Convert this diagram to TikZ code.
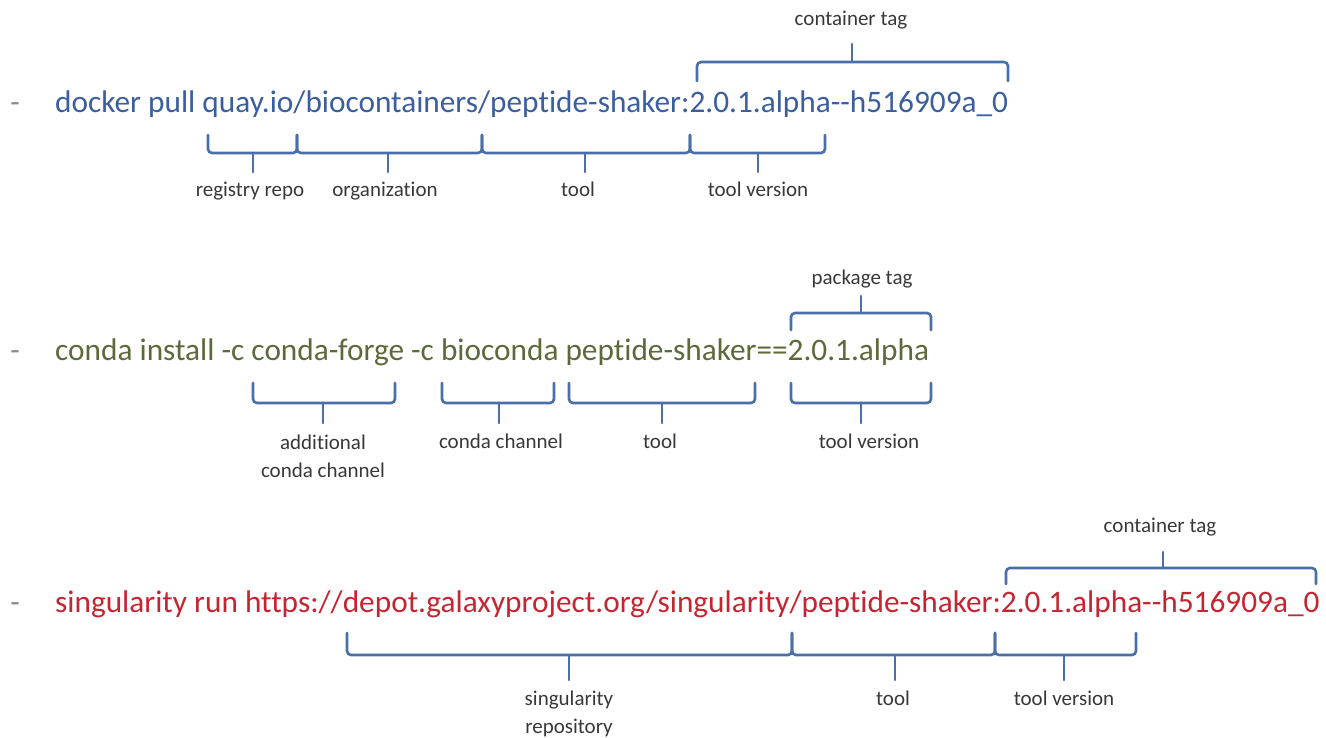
\documentclass[tikz,border=0pt]{standalone}
\usepackage{fontspec}
\setmainfont{Carlito}[Ligatures={NoCommon}]
\definecolor{cmdblue}{HTML}{3A5E9E}
\definecolor{cmdgreen}{HTML}{5C6A3A}
\definecolor{cmdred}{HTML}{C42530}
\definecolor{bracecol}{HTML}{4A6EA8}
\definecolor{labcol}{HTML}{383838}
\definecolor{dashcol}{HTML}{8A8A8A}
\tikzset{
  cmd/.style={anchor=base west, inner sep=0pt, font=\fontsize{31.3}{37}\selectfont},
  lab/.style={anchor=base, inner sep=0pt, text=labcol, align=center, font=\fontsize{21}{28}\selectfont},
  dashmark/.style={anchor=base, inner sep=0pt, text=dashcol, font=\fontsize{31}{37}\selectfont},
  bracestyle/.style={draw=bracecol, line width=2.6pt, rounded corners=4pt, line cap=round}
}
% lower brace: x1 x2 ytop ymid ybot xc
\newcommand{\lowbrace}[6]{%
  \draw[bracestyle] (#1,#3) -- (#1,#4) -- (#2,#4) -- (#2,#3);
  \draw[bracestyle] (#6,#4) -- (#6,#5);}
\begin{document}
\begin{tikzpicture}[x=1pt,y=-1pt]
\useasboundingbox (0,0) rectangle (1326,738);
% ---------- line 1 ----------
\node[dashmark] (d1) at (15,113) {-};
\node[cmd, text=cmdblue] (c1) at (55,113) {docker pull quay.io/biocontainers/peptide-shaker:2.0.1.alpha-{}-h516909a\_0};
\lowbrace{208}{297}{135}{153}{172}{253}
\lowbrace{297}{482}{135}{153}{172}{388}
\lowbrace{482}{690}{135}{153}{172}{585}
\lowbrace{690}{825}{135}{153}{172}{758}
\draw[bracestyle] (697,81) -- (697,62) -- (1008,62) -- (1008,81);
\draw[bracestyle] (852,62) -- (852,44);
\node[lab] (l1a) at (250,197) {registry repo};
\node[lab] (l1b) at (385,197) {organization};
\node[lab] (l1c) at (578,197) {tool};
\node[lab] (l1d) at (758,197) {tool version};
\node[lab] (l1e) at (851,26) {container tag};
% ---------- line 2 ----------
\node[dashmark] (d2) at (15,360) {-};
\node[cmd, text=cmdgreen] (c2) at (55,360) {conda install -c conda-forge -c bioconda peptide-shaker==2.0.1.alpha};
\lowbrace{253}{395}{383}{403}{423}{323}
\lowbrace{442}{554}{383}{403}{423}{499}
\lowbrace{569}{755}{383}{403}{423}{662}
\lowbrace{791}{931}{383}{403}{423}{861}
\draw[bracestyle] (791,330) -- (791,313) -- (931,313) -- (931,330);
\draw[bracestyle] (861,313) -- (861,296);
\node[lab] (l2a) at (323,477) {additional\\conda channel};
\node[lab] (l2b) at (501,448) {conda channel};
\node[lab] (l2c) at (660,448) {tool};
\node[lab] (l2d) at (869,448) {tool version};
\node[lab] (l2e) at (862,284) {package tag};
% ---------- line 3 ----------
\node[dashmark] (d3) at (15,612) {-};
\node[cmd, text=cmdred] (c3) at (55,612) {singularity run https://depot.galaxyproject.org/singularity/peptide-shaker:2.0.1.alpha-{}-h516909a\_0};
\lowbrace{347}{792}{633}{655}{680}{569}
\lowbrace{792}{995}{633}{655}{680}{895}
\lowbrace{995}{1136}{633}{655}{680}{1064}
\draw[bracestyle] (1006,584) -- (1006,568) -- (1316,568) -- (1316,584);
\draw[bracestyle] (1163,568) -- (1163,552);
\node[lab] (l3a) at (569,733) {singularity\\repository};
\node[lab] (l3b) at (893,705) {tool};
\node[lab] (l3c) at (1064,705) {tool version};
\node[lab] (l3d) at (1160,532) {container tag};
\end{tikzpicture}
\end{document}
